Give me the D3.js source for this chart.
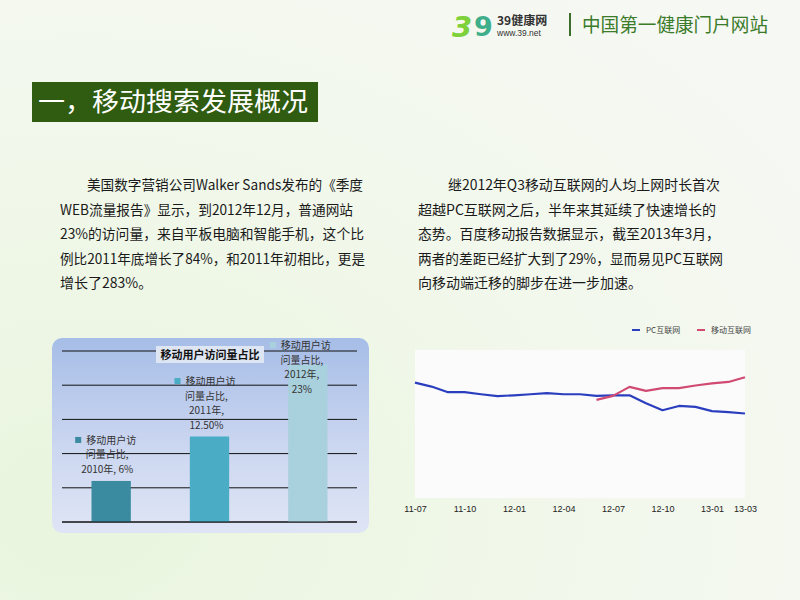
<!DOCTYPE html>
<html><head><meta charset="utf-8">
<script src="https://cdn.jsdelivr.net/npm/d3@7"></script>
<style>body{margin:0;padding:0;overflow:hidden}svg{display:block}</style>
</head><body>
<script>
// ---- data ----
const barCategories = ["2010年", "2011年", "2012年"];
const barValues = [6, 12.5, 23];
const barValueLabels = ["6%", "12.50%", "23%"];
const barSeriesName = "移动用户访问量占比";
const barLabelLines = [
  ["移动用户访", "问量占比,", "2010年, 6%"],
  ["移动用户访", "问量占比,", "2011年,", "12.50%"],
  ["移动用户访", "问量占比,", "2012年,", "23%"]
];
const barColors = ["#3b8ba0", "#4bacc6", "#a9d0dd"];
const barTicks = [0, 5, 10, 15, 20, 25];

const months = ["11-07","11-08","11-09","11-10","11-11","11-12","12-01","12-02","12-03","12-04","12-05","12-06","12-07","12-08","12-09","12-10","12-11","12-12","13-01","13-02","13-03"];
const monthTickLabels = ["11-07","11-10","12-01","12-04","12-07","12-10","13-01","13-03"];
const pcValues = [78.0,75.3,71.5,71.5,70.1,68.8,69.4,70.1,70.8,70.1,70.1,69.0,69.4,69.4,64.0,59.3,62.2,61.6,58.7,58.0,57.1];
const mobileValues = [null,null,null,null,null,null,null,null,null,null,null,66.3,69.0,75.1,72.4,74.2,74.2,76.0,77.5,78.4,81.6];
const lineSeriesNames = ["PC互联网", "移动互联网"];
const lineColors = ["#2b3fbe", "#d04a72"];

const leftPara = ["美国数字营销公司Walker  Sands发布的《季度", "WEB流量报告》显示，到2012年12月，普通网站", "23%的访问量，来自平板电脑和智能手机，这个比", "例比2011年底增长了84%，和2011年初相比，更是", "增长了283%。"];
const rightPara = ["继2012年Q3移动互联网的人均上网时长首次", "超越PC互联网之后，半年来其延续了快速增长的", "态势。百度移动报告数据显示，截至2013年3月，", "两者的差距已经扩大到了29%，显而易见PC互联网", "向移动端迁移的脚步在进一步加速。"];

const W = 800, H = 600;
const FONT = "'Noto Sans CJK SC','Microsoft YaHei',sans-serif";
const svg = d3.select("body").append("svg").attr("width", W).attr("height", H).style("font-family", FONT);
const defs = svg.append("defs");

// background
const bg = defs.append("radialGradient").attr("id","bg").attr("cx","0.1").attr("cy","0.85").attr("r","1.1");
bg.append("stop").attr("offset","0").attr("stop-color","#e9f5de");
bg.append("stop").attr("offset","0.6").attr("stop-color","#f2f8ec");
bg.append("stop").attr("offset","1").attr("stop-color","#f6f8f3");
svg.append("rect").attr("width",W).attr("height",H).attr("fill","url(#bg)");

// header logo
const logo = svg.append("g");
logo.append("text").attr("x",452).attr("y",37).attr("font-size",29).attr("font-weight","bold").attr("font-style","italic")
  .attr("fill","#7ed13a").attr("font-family","'DejaVu Sans',sans-serif").text("3");
logo.append("text").attr("x",474).attr("y",36).attr("font-size",27).attr("font-weight","bold")
  .attr("fill","#3fae8a").attr("font-family","'DejaVu Sans',sans-serif").text("9");
logo.append("text").attr("x",497).attr("y",25).attr("font-size",12).attr("font-weight","bold").attr("fill","#333").text("39健康网");
logo.append("text").attr("x",497).attr("y",36).attr("font-size",8.5).attr("fill","#333").attr("font-family","'Liberation Sans',sans-serif").text("www.39.net");
logo.append("rect").attr("x",569).attr("y",13).attr("width",2).attr("height",23).attr("fill","#3d6e2c");
logo.append("text").attr("x",582).attr("y",32).attr("font-size",19).attr("fill","#3b7b2a").attr("textLength",186).attr("lengthAdjust","spacingAndGlyphs").text("中国第一健康门户网站");

// title box
svg.append("rect").attr("x",32).attr("y",82).attr("width",286).attr("height",40).attr("fill","#2f5c10");
svg.append("text").attr("x",38).attr("y",111).attr("font-size",26).attr("fill","#fff").attr("textLength",270).attr("lengthAdjust","spacingAndGlyphs").text("一，移动搜索发展概况");

// paragraphs
function para(lines, x0, indentX, ends) {
  lines.forEach((t, i) => {
    const x = i === 0 ? indentX : x0;
    const tx = svg.append("text").attr("x", x).attr("y", 190 + i * 24.5).attr("font-size", 14).attr("fill", "#1a1a1a").text(t);
    if (ends[i]) tx.attr("textLength", ends[i] - x).attr("lengthAdjust","spacingAndGlyphs");
  });
}
para(leftPara, 60, 87, [363, 353, 364, 365, null]);
para(rightPara, 418, 448, [720, 716, 720, 723, null]);

// ---- bar chart ----
const pg = defs.append("linearGradient").attr("id","panel").attr("x1",0).attr("y1",0).attr("x2",0).attr("y2",1);
pg.append("stop").attr("offset",0).attr("stop-color","#a6bde7");
pg.append("stop").attr("offset",0.55).attr("stop-color","#cbd6f0");
pg.append("stop").attr("offset",1).attr("stop-color","#dfe5f5");
svg.append("rect").attr("x",52).attr("y",338).attr("width",317).attr("height",195).attr("rx",10).attr("fill","url(#panel)");

const bx = d3.scaleBand().domain(barCategories).range([62, 357]).paddingInner(0.6).paddingOuter(0.3);
const by = d3.scaleLinear().domain([0, 25]).range([522, 351]);
const bar = svg.append("g");
bar.append("g").selectAll("line").data(barTicks).join("line")
  .attr("x1",62).attr("x2",357).attr("y1",d=>by(d)).attr("y2",d=>by(d)).attr("stroke","#111").attr("stroke-width",1);
bar.append("g").selectAll("rect").data(barValues).join("rect")
  .attr("x",(d,i)=>bx(barCategories[i])).attr("width",bx.bandwidth())
  .attr("y",d=>by(d)).attr("height",d=>by(0)-by(d)).attr("fill",(d,i)=>barColors[i]);
bar.append("line").attr("x1",62).attr("x2",357).attr("y1",by(0)).attr("y2",by(0)).attr("stroke","#111");
// chart title
bar.append("rect").attr("x",156).attr("y",346).attr("width",108).attr("height",17).attr("fill","#dfe6f3");
bar.append("text").attr("x",210).attr("y",359).attr("text-anchor","middle").attr("font-size",11).attr("font-weight","bold").attr("fill","#111").text(barSeriesName);
// data labels
const lh = 14.5;
barValues.forEach((v, i) => {
  const lines = barLabelLines[i];
  const cx = bx(barCategories[i]) + bx.bandwidth()/2 + (i===0? -4 : i===2 ? -6 : -3);
  let top = by(v) - 12 - (lines.length - 1) * lh;
  top = Math.max(top, 345);
  const g = bar.append("g");
  lines.forEach((t, j) => {
    g.append("text").attr("x", cx + (j===0 ? 4 : 0)).attr("y", top + j*lh + 4).attr("text-anchor","middle")
      .attr("font-size",10).attr("fill","#333").text(t);
  });
  const firstW = 50;
  g.append("rect").attr("x", cx + 4 - firstW/2 - 11).attr("y", top - 3).attr("width",6).attr("height",6).attr("fill",barColors[i]);
});

// ---- line chart ----
const lx = d3.scaleLinear().domain([0, months.length - 1]).range([415, 745]);
const ly = d3.scaleLinear().domain([0, 100]).range([498, 350]);
svg.append("rect").attr("x",415).attr("y",350).attr("width",330).attr("height",148).attr("fill","#fbfbfc");

const line = d3.line().defined(d=>d!=null).x((d,i)=>lx(i)).y(d=>ly(d));
[pcValues, mobileValues].forEach((vals, k) => {
  svg.append("path").datum(vals).attr("d", line).attr("fill","none").attr("stroke",lineColors[k])
    .attr("stroke-width",2.2).attr("stroke-linejoin","round");
});

const xAxis = d3.axisBottom(lx)
  .tickValues(monthTickLabels.map(m => months.indexOf(m)))
  .tickFormat(i => months[i]).tickSize(0).tickPadding(0);
const xg = svg.append("g").attr("transform","translate(0,506)").call(xAxis);
xg.select(".domain").remove();
xg.selectAll("text").attr("font-size",9).attr("fill","#222").attr("font-family","'Liberation Sans',sans-serif").attr("dy","0.71em");

// legend
const lg = svg.append("g").attr("font-size",8).attr("fill","#444");
[[632, 0], [697, 1]].forEach(([x, k]) => {
  lg.append("line").attr("x1",x).attr("x2",x+8).attr("y1",330).attr("y2",330).attr("stroke",lineColors[k]).attr("stroke-width",2);
  lg.append("text").attr("x",x+14).attr("y",333).text(lineSeriesNames[k]);
});
</script>
</body></html>
